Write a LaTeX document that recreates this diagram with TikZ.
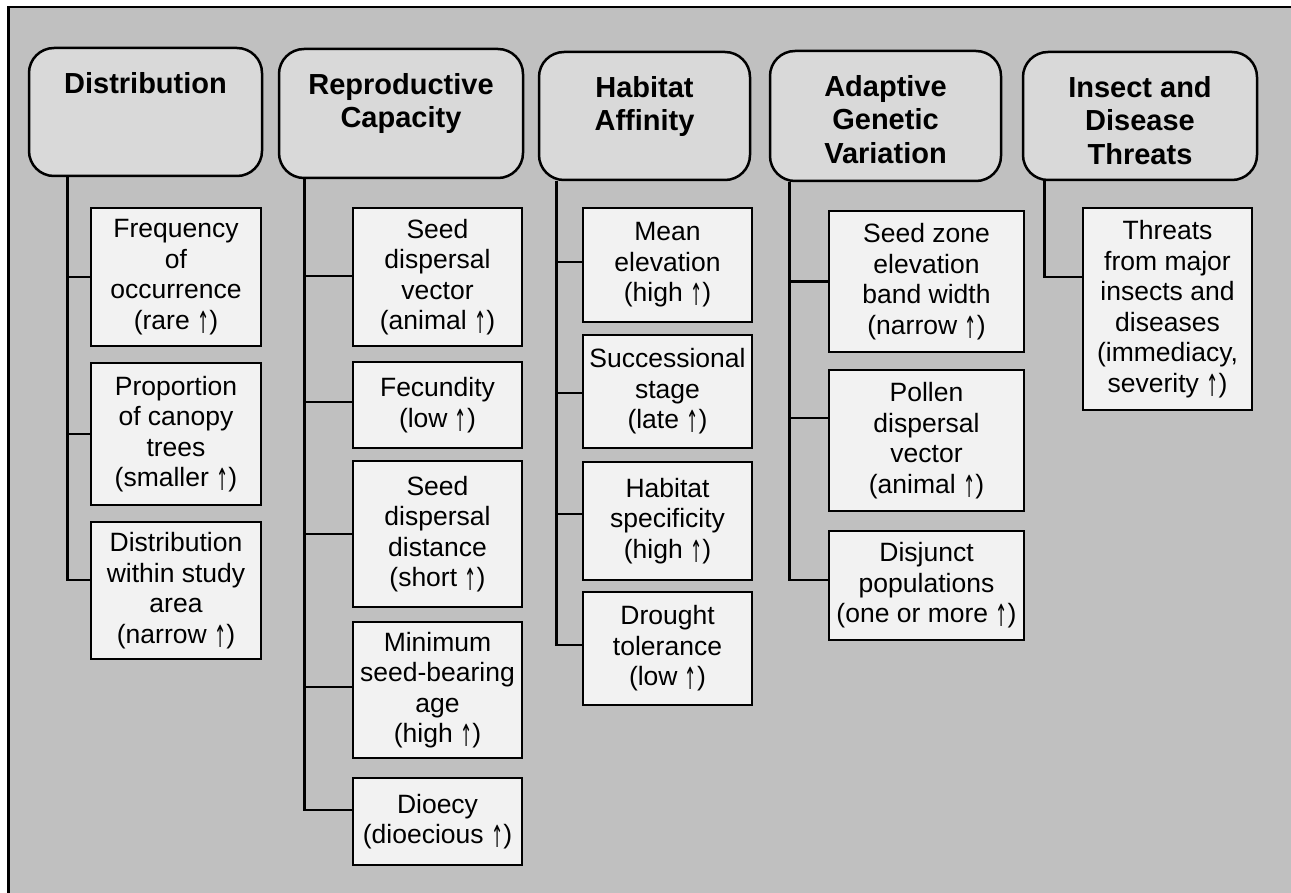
\documentclass[tikz,border=0pt]{standalone}
\usepackage{fontspec}
\setmainfont{Liberation Sans}
\newfontfamily\arrowfont{DejaVu Sans}
\definecolor{bgfill}{HTML}{C0C0C0}
\definecolor{hdrfill}{HTML}{D9D9D9}
\definecolor{itemfill}{HTML}{F2F2F2}
\newcommand{\hdrbox}[3]{\parbox[c][#2][t]{#1}{\centering\fontsize{29}{33.5}\selectfont\bfseries\vspace*{24pt}#3}}
\newcommand{\itemfont}{\fontsize{26.5}{30.5}\selectfont}
\newcommand{\uparr}{\raisebox{-4pt}{\scalebox{0.55}[1.15]{\arrowfont ↑}}}
\begin{document}
\begin{tikzpicture}[x=1pt,y=-1pt,
  hdr/.style={draw,line width=2.5pt,fill=hdrfill,rounded corners=25pt,inner sep=0pt},
  item/.style={draw,line width=2.5pt,fill=itemfill,inner sep=0pt,align=center,font=\itemfont},
  conn/.style={line width=2.8pt}]
\useasboundingbox (0,0) rectangle (1291,893);
\fill[white] (-5,-5) rectangle (1300,900);
\fill[bgfill] (8.7,7) rectangle (1300,900);
\draw[line width=2.7pt] (8.7,900) -- (8.7,7) -- (1300,7);

% headers
\node[hdr] (h1) at (145.5,112) {\hdrbox{233pt}{128pt}{Distribution}};
\node[hdr] (h2) at (401,113.5) {\hdrbox{244pt}{129pt}{Reproductive\\Capacity}};
\node[hdr] (h3) at (644.5,116) {\hdrbox{211pt}{128pt}{Habitat\\Affinity}};
\node[hdr] (h4) at (885.5,116) {\hdrbox{231pt}{130pt}{Adaptive\\Genetic\\Variation}};
\node[hdr] (h5) at (1140,116) {\hdrbox{234pt}{128pt}{Insect and\\Disease\\Threats}};

% Distribution
\node[item,minimum width=170pt,minimum height=138pt] (c11) at (176,277) {Frequency\\of\\occurrence\\(rare \uparr)};
\node[item,minimum width=170pt,minimum height=142pt] (c12) at (176,434) {Proportion\\of canopy\\trees\\(smaller \uparr)};
\node[item,minimum width=170pt,minimum height=137pt] (c13) at (176,590.5) {Distribution\\within study\\area\\(narrow \uparr)};

% Reproductive Capacity
\node[item,minimum width=169pt,minimum height=138pt] (c21) at (437.5,277) {Seed\\dispersal\\vector\\(animal \uparr)};
\node[item,minimum width=169pt,minimum height=86pt] (c22) at (437.5,405) {Fecundity\\(low \uparr)};
\node[item,minimum width=169pt,minimum height=146pt] (c23) at (437.5,534) {Seed\\dispersal\\distance\\(short \uparr)};
\node[item,minimum width=169pt,minimum height=136pt] (c24) at (437.5,690) {Minimum\\seed-bearing\\age\\(high \uparr)};
\node[item,minimum width=169pt,minimum height=87pt] (c25) at (437.5,821.5) {Dioecy\\(dioecious \uparr)};

% Habitat Affinity
\node[item,minimum width=169pt,minimum height=114pt] (c31) at (667.5,265) {Mean\\elevation\\(high \uparr)};
\node[item,minimum width=169pt,minimum height=113pt] (c32) at (667.5,391.5) {Successional\\stage\\(late \uparr)};
\node[item,minimum width=169pt,minimum height=118pt] (c33) at (667.5,521) {Habitat\\specificity\\(high \uparr)};
\node[item,minimum width=169pt,minimum height=113pt] (c34) at (667.5,648.5) {Drought\\tolerance\\(low \uparr)};

% Adaptive Genetic Variation
\node[item,minimum width=195pt,minimum height=141pt] (c41) at (926.5,281.5) {Seed zone\\elevation\\band width\\(narrow \uparr)};
\node[item,minimum width=195pt,minimum height=141pt] (c42) at (926.5,440.5) {Pollen\\dispersal\\vector\\(animal \uparr)};
\node[item,minimum width=195pt,minimum height=109pt] (c43) at (926.5,585.5) {Disjunct\\populations\\(one or more \uparr)};

% Insect and Disease Threats
\node[item,minimum width=169pt,minimum height=202pt] (c51) at (1167.5,309) {Threats\\from major\\insects and\\diseases\\(immediacy,\\severity \uparr)};

% trunk tops
\coordinate (t1) at ([xshift=40pt]h1.south west);
\coordinate (t2) at ([xshift=27pt]h2.south west);
\coordinate (t3) at ([xshift=19pt]h3.south west);
\coordinate (t4) at ([xshift=21pt]h4.south west);
\coordinate (t5) at ([xshift=23pt]h5.south west);

% connectors
\draw[conn] (t1) |- (c11.west);
\draw[conn] (t1) |- (c12.west);
\draw[conn] (t1) |- ([yshift=10.5pt]c13.west);

\draw[conn] (t2) |- ([yshift=1pt]c21.west);
\draw[conn] (t2) |- ([yshift=3pt]c22.west);
\draw[conn] (t2) |- (c23.west);
\draw[conn] (t2) |- ([yshift=3pt]c24.west);
\draw[conn] (t2) |- ([yshift=11.5pt]c25.west);

\draw[conn] (t3) |- ([yshift=3pt]c31.west);
\draw[conn] (t3) |- ([yshift=-1.5pt]c32.west);
\draw[conn] (t3) |- ([yshift=7pt]c33.west);
\draw[conn] (t3) |- ([yshift=3.5pt]c34.west);

\draw[conn] (t4) |- (c41.west);
\draw[conn] (t4) |- ([yshift=22.5pt]c42.west);
\draw[conn] (t4) |- ([yshift=5.5pt]c43.west);

\draw[conn] (t5) |- ([yshift=32pt]c51.west);
\end{tikzpicture}
\end{document}
